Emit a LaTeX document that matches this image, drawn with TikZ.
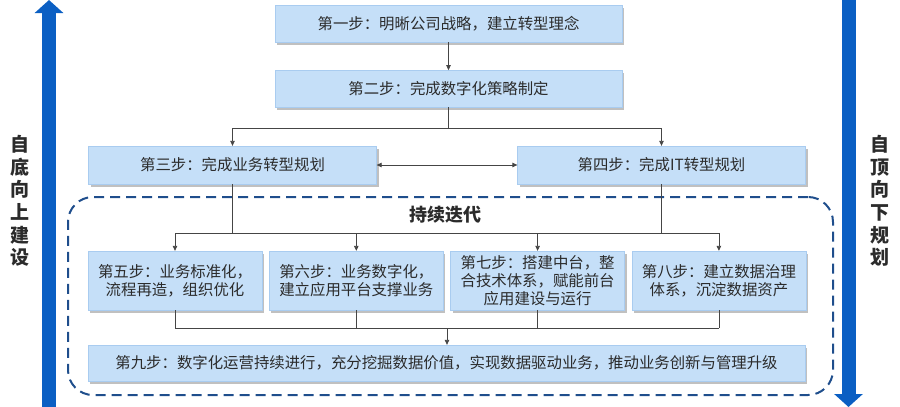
\documentclass[tikz,border=0pt]{standalone}
\usepackage{fontspec}
\setmainfont{Noto Sans CJK SC}
\usepackage{tikz}
\usetikzlibrary{positioning,arrows.meta,shadows}
\definecolor{stBlue}{HTML}{0B5FC3}
\definecolor{stBoxL}{HTML}{C5DFF8}
\definecolor{stFrame}{HTML}{1F4E8C}
\definecolor{stLine}{HTML}{454545}
\definecolor{stText}{HTML}{2B2B2B}
\tikzset{
  st-box/.style={
    fill=stBoxL, draw=stBoxL!85!stBlue, line width=0.3pt,
    text=stText, font=\fontsize{15.4}{18}\selectfont, align=center,
    inner sep=2pt,
    drop shadow={shadow xshift=2pt, shadow yshift=-2.5pt,
      fill=black!45, opacity=0.55}
  },
  st-wide/.style={st-box, minimum width=347pt, minimum height=37pt},
  st-half/.style={st-box, minimum width=288pt, minimum height=38pt},
  st-step/.style={st-box, minimum width=174pt, minimum height=59pt},
  st-flow/.style={-{Triangle[length=5pt,width=4.5pt]}, line width=0.8pt,
    draw=stLine},
  st-flow-2/.style={{Triangle[length=5pt,width=4.5pt]}-{Triangle[length=5pt,width=4.5pt]},
    line width=0.8pt, draw=stLine},
  st-line/.style={line width=0.8pt, draw=stLine},
  st-big/.style={line width=14pt, draw=stBlue,
    -{Triangle[length=13pt,width=28pt]}},
  st-side/.style={font=\fontsize{19}{22.6}\selectfont\bfseries,
    align=center, text=stText},
  st-title/.style={font=\fontsize{18}{20}\selectfont\bfseries, text=stText},
  st-frame/.style={draw=stFrame, line width=2pt, dash pattern=on 10pt off 6pt,
    rounded corners=25pt}
}
\begin{document}
\begin{tikzpicture}[x=1pt, y=-1pt, node distance=7pt]
\useasboundingbox (0,0) rectangle (900,407);

% side arrows
\coordinate (lbot) at (49,407);
\coordinate (ltop) at (49,0);
\coordinate (rtop) at (848.5,0);
\coordinate (rbot) at (848.5,407);
\draw[st-big] (lbot) -- (ltop);
\draw[st-big] (rtop) -- (rbot);
\node[st-side] (up) at (20,201) {自\\底\\向\\上\\建\\设};
\node[st-side] (down) at (880,201) {自\\顶\\向\\下\\规\\划};

% loop frame
\node[st-frame, minimum width=765pt, minimum height=198pt] (loop)
  at (450.5,296) {};
\node[st-title] (ttl) at (445,215) {持续迭代};

% steps
\node[st-wide] (s1) at (448.5,23.5) {第一步：明晰公司战略，建立转型理念};
\node[st-wide, below=28pt of s1] (s2) {第二步：完成数字化策略制定};
\node[st-half] (s3) at (232.5,165) {第三步：完成业务转型规划};
\node[st-half] (s4) at (661.5,165) {第四步：完成IT转型规划};
\node[st-step] (s5) at (175,280.5) {第五步：业务标准化，\\流程再造，组织优化};
\node[st-step, right=of s5] (s6) {第六步：业务数字化，\\建立应用平台支撑业务};
\node[st-step, right=of s6] (s7)
  {第七步：搭建中台，整\\合技术体系，赋能前台\\应用建设与运行};
\node[st-step, right=of s7] (s8) {第八步：建立数据治理\\体系，沉淀数据资产};
\node[st-box, minimum width=717pt, minimum height=36pt] (s9) at (446.5,363)
  {第九步：数字化运营持续进行，充分挖掘数据价值，实现数据驱动业务，推动业务创新与管理升级};

% connectors
\coordinate (fork) at (448.5,128);
\coordinate (spl) at (448,233);
\coordinate (mrg) at (447,328);
\draw[st-flow] (s1) -- (s2);
\draw[st-line] (s2.south) -- (fork);
\draw[st-flow] (fork) -| (s3.north);
\draw[st-flow] (fork) -| (s4.north);
\draw[st-flow-2] (s3) -- (s4);
\draw[st-line] (s3.south) -- (s3.south |- spl);
\draw[st-line] (s4.south) -- (s4.south |- spl);
\draw[st-line] (s5.north |- spl) -- (s8.north |- spl);
\foreach \n in {s5,s6,s7,s8}
  \draw[st-flow] (\n.north |- spl) -- (\n.north);
\foreach \n in {s5,s6,s7,s8}
  \draw[st-line] (\n.south) -- (\n.south |- mrg);
\draw[st-line] (s5.south |- mrg) -- (s8.south |- mrg);
\draw[st-flow] (mrg) -- (s9.north -| mrg);
\end{tikzpicture}
\end{document}
